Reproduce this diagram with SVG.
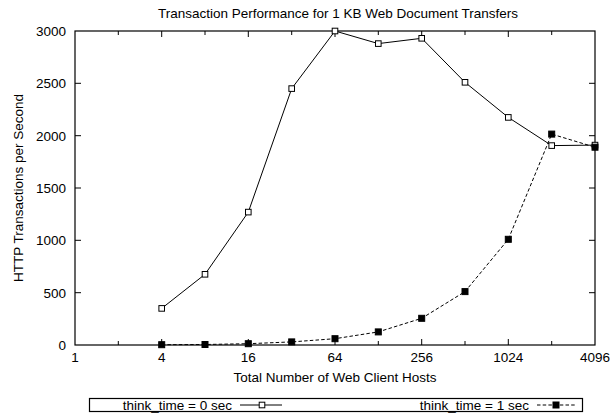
<svg xmlns="http://www.w3.org/2000/svg" width="612" height="415" viewBox="0 0 612 415">
<defs>
<style>
text{font-family:"Liberation Sans",Arial,sans-serif;font-size:13.5px;fill:#000}
.ax{fill:none;stroke:#000;stroke-width:1.2}
.tk{stroke:#000;stroke-width:1;fill:none}
.s1{fill:none;stroke:#000;stroke-width:1}
.s2{fill:none;stroke:#000;stroke-width:1;stroke-dasharray:3.5,2.2}
.yl{text-anchor:end}
.xl{text-anchor:middle}
</style>
<rect id="op" x="-2.8" y="-2.8" width="5.6" height="5.6" fill="#fff" stroke="#000" stroke-width="1"/>
<rect id="fp" x="-3" y="-3" width="6" height="6" fill="#000" stroke="#000" stroke-width="1"/>
</defs>
<rect width="612" height="415" fill="#fff"/>
<text id="title" x="338" y="18" class="xl">Transaction Performance for 1 KB Web Document Transfers</text>
<g id="axes">
<path class="tk" d="M75 292.7h6M75 240.3h6M75 188h6M75 135.7h6M75 83.3h6M595 292.7h-6M595 240.3h-6M595 188h-6M595 135.7h-6M595 83.3h-6"/>
<path class="tk" d="M118.3 345v-4M161.7 345v-6M205 345v-4M248.3 345v-6M291.7 345v-4M335 345v-6M378.3 345v-4M421.7 345v-6M465 345v-4M508.3 345v-6M551.7 345v-4M118.3 31v4M161.7 31v6M205 31v4M248.3 31v6M291.7 31v4M335 31v6M378.3 31v4M421.7 31v6M465 31v4M508.3 31v6M551.7 31v4"/>
<rect class="ax" x="75" y="31" width="520" height="314"/>
<text x="66" y="36" class="yl">3000</text>
<text x="66" y="88.3" class="yl">2500</text>
<text x="66" y="140.7" class="yl">2000</text>
<text x="66" y="193" class="yl">1500</text>
<text x="66" y="245.3" class="yl">1000</text>
<text x="66" y="297.7" class="yl">500</text>
<text x="66" y="350" class="yl">0</text>
<text x="75" y="362" class="xl">1</text>
<text x="161.7" y="362" class="xl">4</text>
<text x="248.3" y="362" class="xl">16</text>
<text x="335" y="362" class="xl">64</text>
<text x="421.7" y="362" class="xl">256</text>
<text x="508.3" y="362" class="xl">1024</text>
<text x="595" y="362" class="xl">4096</text>
<text x="335" y="382" class="xl">Total Number of Web Client Hosts</text>
<text x="0" y="0" class="xl" transform="translate(23 188) rotate(-90)">HTTP Transactions per Second</text>
</g>
<g id="series-think0">
<polyline class="s1" points="161.7,308.4 205,274.3 248.3,212.1 291.7,88.6 335,31 378.3,43.6 421.7,38.3 465,82.3 508.3,117.4 551.7,145.6 595,145.1"/>
<use href="#op" x="161.7" y="308.4"/><use href="#op" x="205" y="274.3"/><use href="#op" x="248.3" y="212.1"/><use href="#op" x="291.7" y="88.6"/><use href="#op" x="335" y="31"/><use href="#op" x="378.3" y="43.6"/><use href="#op" x="421.7" y="38.3"/><use href="#op" x="465" y="82.3"/><use href="#op" x="508.3" y="117.4"/><use href="#op" x="551.7" y="145.6"/><use href="#op" x="595" y="145.1"/>
</g>
<g id="series-think1">
<polyline class="s2" points="161.7,344.7 205,344.5 248.3,343.7 291.7,341.9 335,338.7 378.3,331.9 421.7,318.3 465,291.6 508.3,239.3 551.7,134.1 595,147.2"/>
<use href="#fp" x="161.7" y="344.7"/><use href="#fp" x="205" y="344.5"/><use href="#fp" x="248.3" y="343.7"/><use href="#fp" x="291.7" y="341.9"/><use href="#fp" x="335" y="338.7"/><use href="#fp" x="378.3" y="331.9"/><use href="#fp" x="421.7" y="318.3"/><use href="#fp" x="465" y="291.6"/><use href="#fp" x="508.3" y="239.3"/><use href="#fp" x="551.7" y="134.1"/><use href="#fp" x="595" y="147.2"/>
</g>
<g id="legend">
<rect x="89.5" y="398.5" width="493" height="13" fill="none" stroke="#000" stroke-width="1.2"/>
<text x="232" y="409.5" class="yl">think_time = 0 sec</text>
<path class="s1" d="M240 405h42"/>
<use href="#op" x="262" y="405"/>
<text x="529" y="409.5" class="yl">think_time = 1 sec</text>
<path class="s2" d="M537 405h39"/>
<use href="#fp" x="556" y="405"/>
</g>
</svg>
